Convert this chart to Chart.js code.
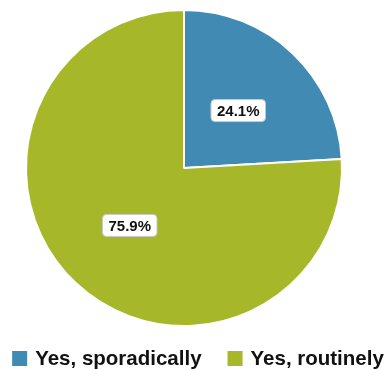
<!DOCTYPE html>
<html>
<head>
<meta charset="utf-8">
<script src="https://cdn.jsdelivr.net/npm/chart.js@4"></script>
<style>
    html, body { margin: 0; padding: 0; background: #ffffff; }
    #wrap { width: 388px; height: 370px; }
</style>
</head>
<body>
<div id="wrap"><canvas id="pie-chart"></canvas></div>
<script>
// Chart data
const categories = ['Yes, sporadically', 'Yes, routinely'];
const shareValues = [24.1, 75.9];
const sliceColors = ['#418AB3', '#A6B829'];

// Percent labels in white rounded boxes at the middle of each slice
const sliceLabels = {
    id: 'sliceLabels',
    afterDatasetsDraw(chart) {
        const ctx = chart.ctx;
        const meta = chart.getDatasetMeta(0);
        ctx.save();
        ctx.font = 'bold 15px "Liberation Sans", Arial, sans-serif';
        ctx.textAlign = 'center';
        ctx.textBaseline = 'middle';
        meta.data.forEach((arc, i) => {
            const pos = arc.tooltipPosition();
            const text = shareValues[i].toFixed(1) + '%';
            const w = ctx.measureText(text).width + 12;
            const h = 22;
            ctx.beginPath();
            ctx.roundRect(pos.x - w / 2, pos.y - h / 2, w, h, 4);
            ctx.fillStyle = '#ffffff';
            ctx.fill();
            ctx.strokeStyle = '#c8c8c8';
            ctx.lineWidth = 1;
            ctx.stroke();
            ctx.fillStyle = '#111111';
            ctx.fillText(text, pos.x, pos.y + 1);
        });
        ctx.restore();
    }
};

// Legend under the pie
const bottomLegend = {
    id: 'bottomLegend',
    afterDraw(chart) {
        const ctx = chart.ctx;
        const boxSize = 15;
        const gap = 8;
        const spacing = 26;
        const centerY = 358.5;
        ctx.save();
        ctx.font = 'bold 20.5px "Liberation Sans", Arial, sans-serif';
        ctx.textBaseline = 'middle';
        const widths = chart.data.labels.map(t => ctx.measureText(t).width);
        let total = 0;
        widths.forEach(w => { total += boxSize + gap + w; });
        total += spacing * (widths.length - 1);
        let x = 198 - total / 2;
        chart.data.labels.forEach((label, i) => {
            ctx.fillStyle = chart.data.datasets[0].backgroundColor[i];
            ctx.fillRect(x, centerY - boxSize / 2, boxSize, boxSize);
            x += boxSize + gap;
            ctx.fillStyle = '#111111';
            ctx.fillText(label, x, centerY + 1);
            x += widths[i] + spacing;
        });
        ctx.restore();
    }
};

function init() {
    const ctx = document.getElementById('pie-chart').getContext('2d');
    new Chart(ctx, {
        type: 'pie',
        data: {
            labels: categories,
            datasets: [{
                data: shareValues,
                backgroundColor: sliceColors,
                borderColor: '#ffffff',
                borderWidth: 2
            }]
        },
        options: {
            responsive: true,
            maintainAspectRatio: false,
            animation: false,
            layout: {
                padding: { top: 9, bottom: 43, left: 0, right: 20 }
            },
            plugins: {
                legend: { display: false },
                tooltip: { enabled: false }
            }
        },
        plugins: [sliceLabels, bottomLegend]
    });
}

document.addEventListener('DOMContentLoaded', init);
</script>
</body>
</html>
